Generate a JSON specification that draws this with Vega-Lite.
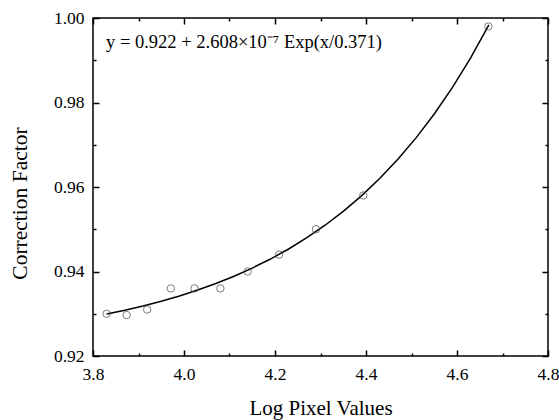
{
  "$schema": "https://vega.github.io/schema/vega-lite/v6.json",
  "width": 455,
  "height": 338,
  "autosize": {"type": "none"},
  "padding": {"left": 93, "top": 18, "right": 11, "bottom": 64},
  "background": "white",
  "config": {
    "view": {"stroke": "black", "strokeWidth": 1.5},
    "font": "Liberation Serif",
    "axis": {
      "grid": false,
      "domain": false,
      "labelFlush": false,
      "tickColor": "black",
      "tickWidth": 1.5,
      "labelColor": "black",
      "titleColor": "black",
      "labelFont": "Liberation Serif",
      "titleFont": "Liberation Serif",
      "labelFontSize": 17.5,
      "titleFontSize": 21,
      "titleFontWeight": "normal"
    }
  },
  "datasets": {
    "points": [
      {"x": 3.830, "y": 0.930},
      {"x": 3.874, "y": 0.9297},
      {"x": 3.919, "y": 0.931},
      {"x": 3.971, "y": 0.936},
      {"x": 4.023, "y": 0.936},
      {"x": 4.080, "y": 0.936},
      {"x": 4.140, "y": 0.940},
      {"x": 4.209, "y": 0.944},
      {"x": 4.290, "y": 0.950},
      {"x": 4.394, "y": 0.958},
      {"x": 4.669, "y": 0.998}
    ],
    "curve": [
      {"x": 3.83, "y": 0.92994},
      {"x": 3.87, "y": 0.93084},
      {"x": 3.91, "y": 0.93185},
      {"x": 3.95, "y": 0.93297},
      {"x": 3.99, "y": 0.93422},
      {"x": 4.03, "y": 0.93561},
      {"x": 4.07, "y": 0.93716},
      {"x": 4.11, "y": 0.93889},
      {"x": 4.15, "y": 0.94081},
      {"x": 4.19, "y": 0.94295},
      {"x": 4.23, "y": 0.94533},
      {"x": 4.27, "y": 0.94799},
      {"x": 4.31, "y": 0.95095},
      {"x": 4.35, "y": 0.95425},
      {"x": 4.39, "y": 0.95791},
      {"x": 4.43, "y": 0.96200},
      {"x": 4.47, "y": 0.96656},
      {"x": 4.51, "y": 0.97163},
      {"x": 4.55, "y": 0.97728},
      {"x": 4.59, "y": 0.98357},
      {"x": 4.63, "y": 0.99058},
      {"x": 4.67, "y": 0.99839}
    ],
    "label": [
      {"x": 3.8286, "y": 0.9928, "text": "y = 0.922 + 2.608×10⁻⁷ Exp(x/0.371)"}
    ]
  },
  "layer": [
    {
      "data": {"name": "curve"},
      "mark": {"type": "line", "color": "black", "strokeWidth": 1.5},
      "encoding": {
        "x": {
          "field": "x", "type": "quantitative",
          "scale": {"domain": [3.8, 4.8], "nice": false, "zero": false},
          "axis": {"orient": "bottom", "values": [3.8, 4.0, 4.2, 4.4, 4.6, 4.8], "format": ".1f", "tickSize": -6, "labelPadding": 15, "title": "Log Pixel Values", "titlePadding": 15, "titleFontSize": 21}
        },
        "y": {
          "field": "y", "type": "quantitative",
          "scale": {"domain": [0.92, 1.0], "nice": false, "zero": false},
          "axis": {"orient": "left", "values": [0.92, 0.94, 0.96, 0.98, 1.0], "format": ".2f", "tickSize": -6, "labelPadding": 15, "title": "Correction Factor", "titlePadding": 22, "titleY": 185, "titleFontSize": 21.5}
        }
      }
    },
    {
      "data": {"name": "points"},
      "mark": {"type": "point", "shape": "circle", "filled": false, "size": 55, "stroke": "#444444", "strokeWidth": 1},
      "encoding": {
        "x": {
          "field": "x", "type": "quantitative",
          "axis": {"orient": "bottom", "values": [3.9, 4.1, 4.3, 4.5, 4.7], "labels": false, "tickSize": -3, "title": null}
        },
        "y": {
          "field": "y", "type": "quantitative",
          "axis": {"orient": "left", "values": [0.93, 0.95, 0.97, 0.99], "labels": false, "tickSize": -3, "title": null}
        }
      }
    },
    {
      "data": {"name": "label"},
      "mark": {"type": "text", "align": "left", "baseline": "alphabetic", "font": "Liberation Serif", "fontSize": 18.5, "color": "black"},
      "encoding": {
        "x": {
          "field": "x", "type": "quantitative",
          "axis": {"orient": "top", "values": [3.8, 4.0, 4.2, 4.4, 4.6, 4.8], "labels": false, "tickSize": -6, "title": null}
        },
        "y": {
          "field": "y", "type": "quantitative",
          "axis": {"orient": "right", "values": [0.92, 0.94, 0.96, 0.98, 1.0], "labels": false, "tickSize": -6, "title": null}
        },
        "text": {"field": "text", "type": "nominal"}
      }
    },
    {
      "data": {"name": "points"},
      "mark": {"type": "point", "opacity": 0},
      "encoding": {
        "x": {
          "field": "x", "type": "quantitative",
          "axis": {"orient": "top", "values": [3.9, 4.1, 4.3, 4.5, 4.7], "labels": false, "tickSize": -3, "title": null}
        },
        "y": {
          "field": "y", "type": "quantitative",
          "axis": {"orient": "right", "values": [0.93, 0.95, 0.97, 0.99], "labels": false, "tickSize": -3, "title": null}
        }
      }
    }
  ],
  "resolve": {"axis": {"x": "independent", "y": "independent"}}
}
